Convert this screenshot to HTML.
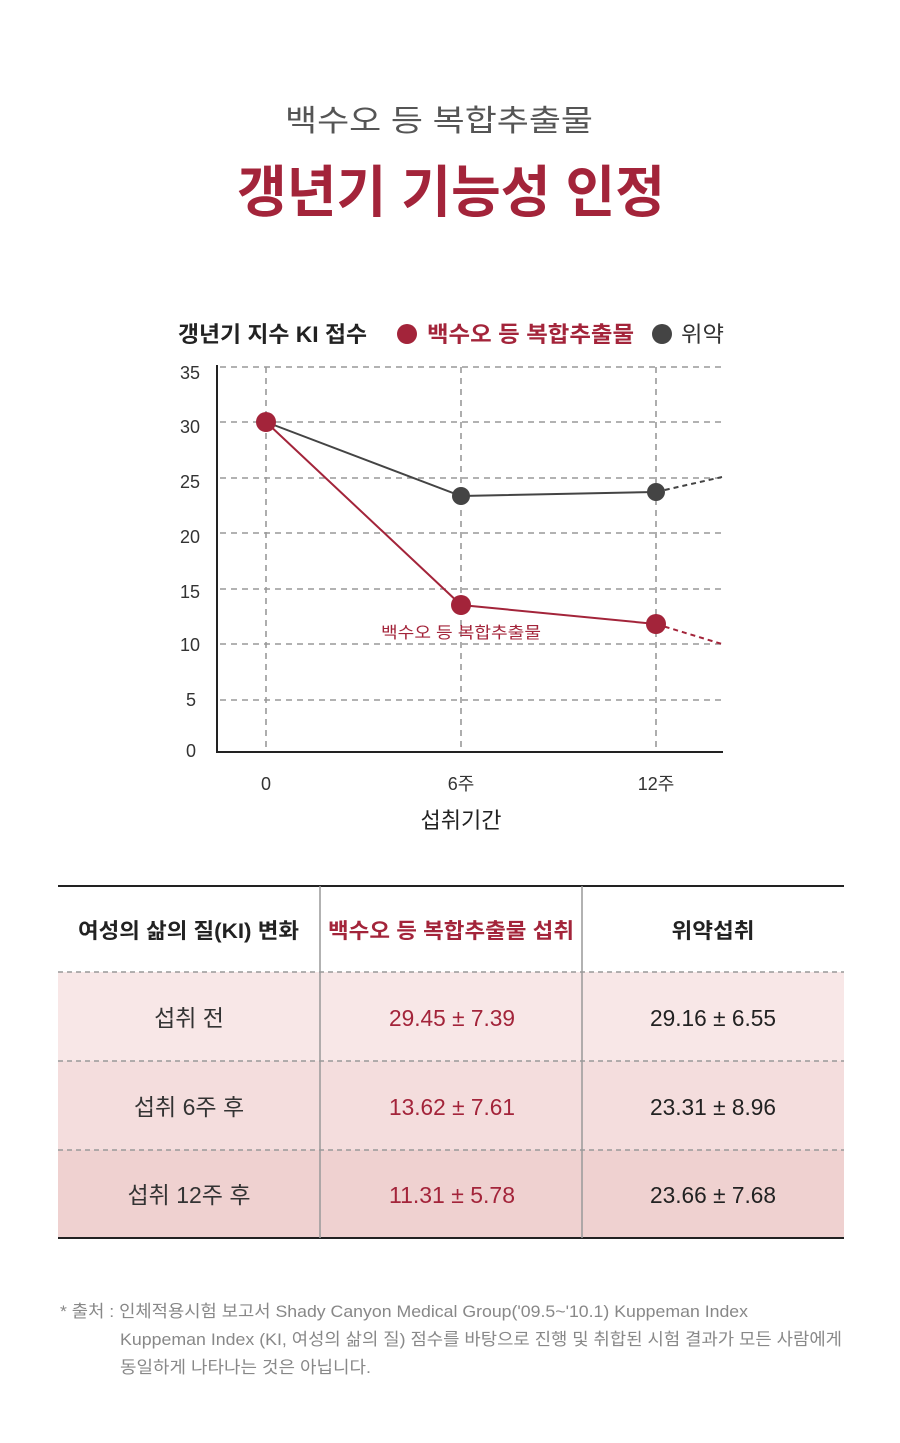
<!DOCTYPE html>
<html><head><meta charset="utf-8"><style>html,body{margin:0;padding:0;background:#fff}svg{display:block}</style></head>
<body>
<svg width="900" height="1443" viewBox="0 0 900 1443" xmlns="http://www.w3.org/2000/svg" font-family="'Liberation Sans','Noto Sans CJK KR',sans-serif">
<rect width="900" height="1443" fill="#fff"/>
<text x="285" y="131" font-size="30" fill="#555" textLength="308" lengthAdjust="spacingAndGlyphs">백수오 등 복합추출물</text>
<text x="237" y="212" font-size="56" font-weight="bold" fill="#a3243a" textLength="428" lengthAdjust="spacingAndGlyphs">갱년기 기능성 인정</text>

<text x="178" y="342" font-size="22" font-weight="bold" fill="#222" textLength="189" lengthAdjust="spacingAndGlyphs">갱년기 지수 KI 접수</text>
<circle cx="407" cy="334" r="10" fill="#a3243a"/>
<text x="427" y="342" font-size="22" font-weight="bold" fill="#a3243a" textLength="207" lengthAdjust="spacingAndGlyphs">백수오 등 복합추출물</text>
<circle cx="662" cy="334" r="10" fill="#444"/>
<text x="681" y="342" font-size="22" fill="#333" textLength="43" lengthAdjust="spacingAndGlyphs">위약</text>

<g stroke="#999" stroke-width="1.6" stroke-dasharray="6,5" fill="none">
<line x1="220" y1="367" x2="722" y2="367"/>
<line x1="220" y1="422" x2="722" y2="422"/>
<line x1="220" y1="478" x2="722" y2="478"/>
<line x1="220" y1="533" x2="722" y2="533"/>
<line x1="220" y1="589" x2="722" y2="589"/>
<line x1="220" y1="644" x2="722" y2="644"/>
<line x1="220" y1="700" x2="722" y2="700"/>
<line x1="266" y1="367" x2="266" y2="752"/>
<line x1="461" y1="367" x2="461" y2="752"/>
<line x1="656" y1="367" x2="656" y2="752"/>
</g>
<line x1="217" y1="365" x2="217" y2="753" stroke="#222" stroke-width="2"/>
<line x1="216" y1="752" x2="723" y2="752" stroke="#222" stroke-width="2"/>
<g font-size="18" fill="#333" text-anchor="end">
<text x="200" y="379">35</text><text x="200" y="433">30</text><text x="200" y="488">25</text>
<text x="200" y="543">20</text><text x="200" y="598">15</text><text x="200" y="651">10</text>
<text x="196" y="706">5</text><text x="196" y="757">0</text>
</g>
<polyline points="266,422 461,496 656,492" fill="none" stroke="#444" stroke-width="2"/>
<line x1="656" y1="492" x2="722" y2="477" stroke="#444" stroke-width="2" stroke-dasharray="5,4"/>
<polyline points="266,422 461,605 656,624" fill="none" stroke="#a3243a" stroke-width="2"/>
<line x1="656" y1="624" x2="722" y2="644" stroke="#a3243a" stroke-width="2" stroke-dasharray="5,4"/>
<circle cx="461" cy="496" r="9" fill="#444"/>
<circle cx="656" cy="492" r="9" fill="#444"/>
<circle cx="266" cy="422" r="10" fill="#a3243a"/>
<circle cx="461" cy="605" r="10" fill="#a3243a"/>
<circle cx="656" cy="624" r="10" fill="#a3243a"/>
<text x="381" y="638" font-size="16" fill="#a3243a" textLength="160" lengthAdjust="spacingAndGlyphs">백수오 등 복합추출물</text>
<g font-size="18" fill="#333" text-anchor="middle">
<text x="266" y="790">0</text><text x="461" y="790">6주</text><text x="656" y="790">12주</text>
</g>
<text x="461" y="828" font-size="22" fill="#222" text-anchor="middle">섭취기간</text>

<rect x="58" y="972" width="786" height="89" fill="#f8e7e7"/>
<rect x="58" y="1061" width="786" height="89" fill="#f4dddd"/>
<rect x="58" y="1150" width="786" height="88" fill="#efd1d0"/>
<line x1="58" y1="886" x2="844" y2="886" stroke="#222" stroke-width="2"/>
<line x1="58" y1="1238" x2="844" y2="1238" stroke="#222" stroke-width="2"/>
<g stroke="#999" stroke-width="1.5" stroke-dasharray="5,4">
<line x1="58" y1="972" x2="844" y2="972"/>
<line x1="58" y1="1061" x2="844" y2="1061"/>
<line x1="58" y1="1150" x2="844" y2="1150"/>
</g>
<line x1="320" y1="886" x2="320" y2="1238" stroke="#999" stroke-width="1.5"/>
<line x1="582" y1="886" x2="582" y2="1238" stroke="#999" stroke-width="1.5"/>
<text x="78" y="938" font-size="21" font-weight="bold" fill="#222" textLength="221" lengthAdjust="spacingAndGlyphs">여성의 삶의 질(KI) 변화</text>
<text x="328" y="938" font-size="21" font-weight="bold" fill="#a3243a" textLength="246" lengthAdjust="spacingAndGlyphs">백수오 등 복합추출물 섭취</text>
<text x="713" y="938" font-size="21" font-weight="bold" fill="#222" text-anchor="middle" textLength="83" lengthAdjust="spacingAndGlyphs">위약섭취</text>
<g font-size="23" text-anchor="middle">
<text x="189" y="1026" fill="#333">섭취 전</text>
<text x="189" y="1115" fill="#333">섭취 6주 후</text>
<text x="189" y="1203" fill="#333">섭취 12주 후</text>
<text x="452" y="1026" fill="#a3243a" textLength="126" lengthAdjust="spacingAndGlyphs">29.45 ± 7.39</text>
<text x="452" y="1115" fill="#a3243a" textLength="126" lengthAdjust="spacingAndGlyphs">13.62 ± 7.61</text>
<text x="452" y="1203" fill="#a3243a" textLength="126" lengthAdjust="spacingAndGlyphs">11.31 ± 5.78</text>
<text x="713" y="1026" fill="#222" textLength="126" lengthAdjust="spacingAndGlyphs">29.16 ± 6.55</text>
<text x="713" y="1115" fill="#222" textLength="126" lengthAdjust="spacingAndGlyphs">23.31 ± 8.96</text>
<text x="713" y="1203" fill="#222" textLength="126" lengthAdjust="spacingAndGlyphs">23.66 ± 7.68</text>
</g>
<g font-size="17" fill="#888" lengthAdjust="spacingAndGlyphs">
<text x="60" y="1317" textLength="688" lengthAdjust="spacingAndGlyphs">* 출처 : 인체적용시험 보고서 Shady Canyon Medical Group('09.5~'10.1) Kuppeman Index</text>
<text x="120" y="1345" textLength="722" lengthAdjust="spacingAndGlyphs">Kuppeman Index (KI, 여성의 삶의 질) 점수를 바탕으로 진행 및 취합된 시험 결과가 모든 사람에게</text>
<text x="120" y="1373" textLength="251" lengthAdjust="spacingAndGlyphs">동일하게 나타나는 것은 아닙니다.</text>
</g>
</svg>
</body></html>
